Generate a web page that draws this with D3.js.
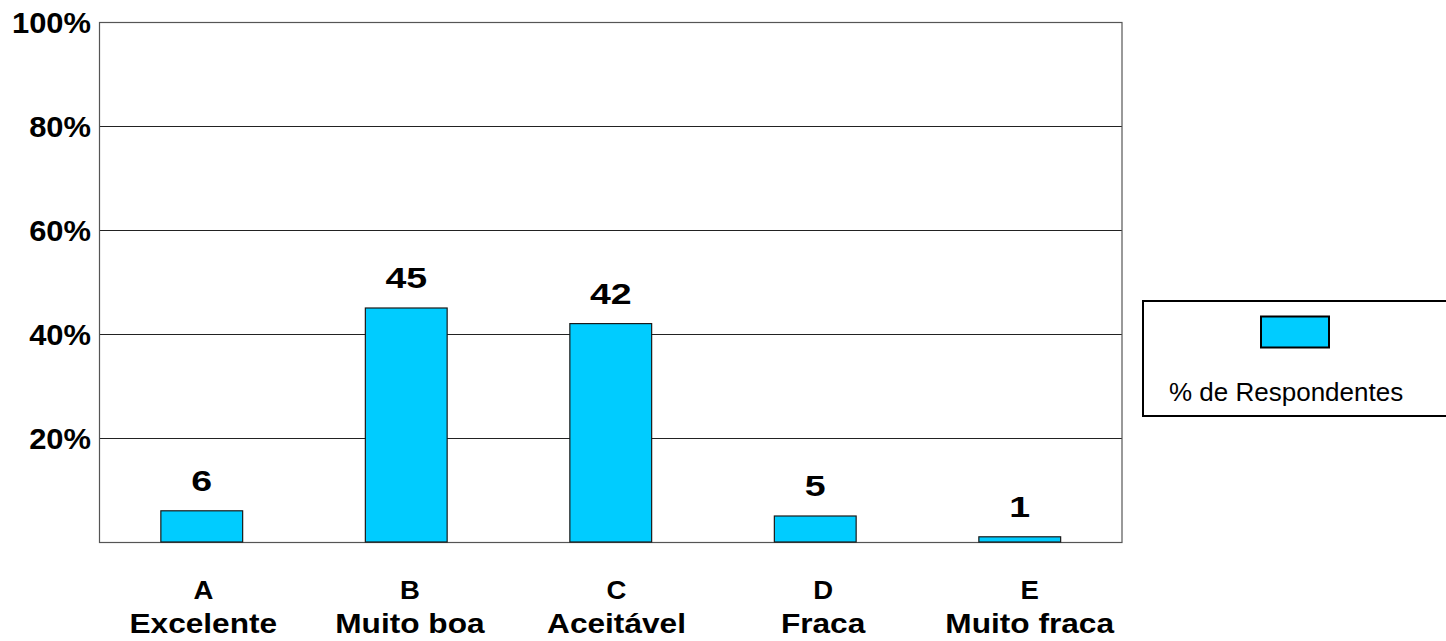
<!DOCTYPE html>
<html>
<head>
<meta charset="utf-8">
<script src="https://cdn.jsdelivr.net/npm/d3@7"></script>
<style>
  html, body { margin: 0; padding: 0; background: #fff; }
  svg { display: block; }
  text { font-family: "Liberation Sans", Arial, sans-serif; }
</style>
</head>
<body>
<svg id="chart" width="1446" height="641"></svg>
<script>
// Rating categories: letter code and description
const codes = ["A", "B", "C", "D", "E"];
const names = ["Excelente", "Muito boa", "Aceitável", "Fraca", "Muito fraca"];
// Share of respondents per category (%)
const values = [6, 45, 42, 5, 1];
// Y-axis ticks (%)
const yTicks = [20, 40, 60, 80, 100];
const seriesName = "% de Respondentes";

const svg = d3.select("#chart");
const plot = { left: 99.5, right: 1122, top: 22, bottom: 542 };

const x = d3.scaleBand()
  .domain(codes)
  .range([plot.left, plot.right])
  .paddingInner(0.6)
  .paddingOuter(0.3);

// Category label slots run slightly wider than the plot area
const xCat = d3.scaleBand()
  .domain(codes)
  .range([100, 1133]);

const y = d3.scaleLinear()
  .domain([0, 100])
  .range([plot.bottom, plot.top]);

// Horizontal grid lines
svg.append("g")
  .selectAll("line")
  .data(yTicks)
  .join("line")
  .attr("x1", plot.left)
  .attr("x2", plot.right)
  .attr("y1", d => Math.round(y(d)) + 0.5)
  .attr("y2", d => Math.round(y(d)) + 0.5)
  .attr("stroke", "#222")
  .attr("stroke-width", 1);

// Plot frame
svg.append("rect")
  .attr("x", plot.left)
  .attr("y", plot.top + 0.5)
  .attr("width", plot.right - plot.left)
  .attr("height", plot.bottom - plot.top)
  .attr("fill", "none")
  .attr("stroke", "#555")
  .attr("stroke-width", 1.2);

// Y-axis labels
svg.append("g")
  .selectAll("text")
  .data(yTicks)
  .join("text")
  .attr("transform", d => `translate(91,${y(d) + 11}) scale(1.03,1)`)
  .attr("text-anchor", "end")
  .attr("font-size", 30)
  .attr("font-weight", "bold")
  .attr("fill", "#000")
  .text(d => d + "%");

// Bars
const data = codes.map((c, i) => ({ code: c, name: names[i], value: values[i] }));

svg.append("g")
  .selectAll("rect")
  .data(data)
  .join("rect")
  .attr("x", d => x(d.code))
  .attr("y", d => y(d.value))
  .attr("width", x.bandwidth())
  .attr("height", d => y(0) - y(d.value))
  .attr("fill", "#00CCFF")
  .attr("stroke", "#1a1a1a")
  .attr("stroke-width", 1.2);

// Value labels above bars
svg.append("g")
  .selectAll("text")
  .data(data)
  .join("text")
  .attr("transform", d => {
    const cx = x(d.code) + x.bandwidth() / 2;
    return `translate(${cx},${y(d.value) - 20}) scale(1.25,1)`;
  })
  .attr("text-anchor", "middle")
  .attr("font-size", 30)
  .attr("font-weight", "bold")
  .attr("fill", "#000")
  .text(d => d.value);

// Category labels (two lines)
const cat = svg.append("g")
  .selectAll("g")
  .data(data)
  .join("g")
  .attr("transform", d => `translate(${xCat(d.code) + xCat.bandwidth() / 2},0)`);

cat.append("text")
  .attr("y", 599)
  .attr("text-anchor", "middle")
  .attr("font-size", 25)
  .attr("font-weight", "bold")
  .attr("transform", "scale(1.1,1)")
  .text(d => d.code);

cat.append("text")
  .attr("y", 633)
  .attr("text-anchor", "middle")
  .attr("font-size", 28)
  .attr("font-weight", "bold")
  .attr("transform", "scale(1.13,1)")
  .text(d => d.name);

// Legend
const legend = svg.append("g");
legend.append("rect")
  .attr("x", 1143)
  .attr("y", 301)
  .attr("width", 320)
  .attr("height", 115)
  .attr("fill", "#fff")
  .attr("stroke", "#000")
  .attr("stroke-width", 2);

legend.append("rect")
  .attr("x", 1261)
  .attr("y", 316.5)
  .attr("width", 68)
  .attr("height", 31)
  .attr("fill", "#00CCFF")
  .attr("stroke", "#000")
  .attr("stroke-width", 2);

legend.append("text")
  .attr("x", 1169)
  .attr("y", 401)
  .attr("font-size", 26)
  .attr("fill", "#000")
  .text(seriesName);
</script>
</body>
</html>
